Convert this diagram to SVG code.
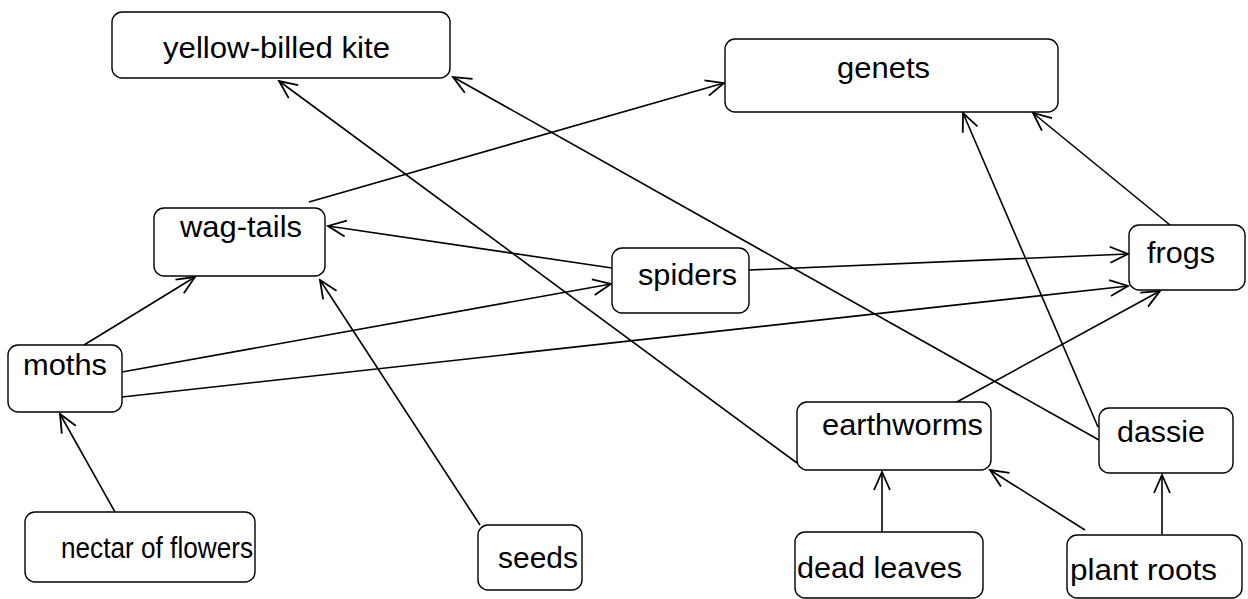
<svg xmlns="http://www.w3.org/2000/svg" width="1248" height="599" viewBox="0 0 1248 599">
<style>
.box{fill:#fff;stroke:#000;stroke-width:1.4}
.lbl{font-family:"Liberation Sans",Arial,sans-serif;font-size:30px;fill:#000}
.edge{stroke:#000;stroke-width:1.6;fill:none;marker-end:url(#arr)}
</style>
<defs>
<marker id="arr" markerUnits="userSpaceOnUse" markerWidth="22" markerHeight="20" refX="20" refY="10" orient="auto" viewBox="0 0 22 20">
<path d="M2,2 L20,10 L2,18" fill="none" stroke="#000" stroke-width="1.8"/>
</marker>
</defs>
<rect width="1248" height="599" fill="#fff"/>
<g id="connectors">
<line class="edge" x1="309" y1="202" x2="724" y2="83"/>
<line class="edge" x1="612" y1="268" x2="328" y2="226"/>
<line class="edge" x1="749" y1="270" x2="1128" y2="254"/>
<line class="edge" x1="84" y1="345" x2="195" y2="277"/>
<line class="edge" x1="122" y1="372" x2="611" y2="284"/>
<line class="edge" x1="122" y1="397" x2="1128" y2="286"/>
<line class="edge" x1="115" y1="512" x2="60" y2="414"/>
<line class="edge" x1="480" y1="525" x2="320" y2="280"/>
<line class="edge" x1="797" y1="463" x2="279" y2="81"/>
<line class="edge" x1="955" y1="403" x2="1160" y2="291"/>
<line class="edge" x1="1099" y1="440" x2="453" y2="77"/>
<line class="edge" x1="1098" y1="427" x2="963" y2="113"/>
<line class="edge" x1="1170" y1="225" x2="1033" y2="113"/>
<line class="edge" x1="882" y1="532" x2="882" y2="472"/>
<line class="edge" x1="1085" y1="530" x2="990" y2="470"/>
<line class="edge" x1="1162" y1="534" x2="1162" y2="475"/>
</g>
<g id="kite"><rect class="box" x="112" y="12" width="338" height="66" rx="10"/><text class="lbl" x="163" y="58" textLength="227" lengthAdjust="spacingAndGlyphs">yellow-billed kite</text></g>
<g id="genets"><rect class="box" x="725" y="39" width="333" height="73" rx="10"/><text class="lbl" x="837" y="78" textLength="93" lengthAdjust="spacingAndGlyphs">genets</text></g>
<g id="wagtails"><rect class="box" x="154" y="208" width="171" height="68" rx="10"/><text class="lbl" x="180" y="237" textLength="122" lengthAdjust="spacingAndGlyphs">wag-tails</text></g>
<g id="spiders"><rect class="box" x="612" y="248" width="137" height="65" rx="10"/><text class="lbl" x="638" y="285" textLength="99" lengthAdjust="spacingAndGlyphs">spiders</text></g>
<g id="frogs"><rect class="box" x="1129" y="225" width="116" height="65" rx="10"/><text class="lbl" x="1147" y="263" textLength="68" lengthAdjust="spacingAndGlyphs">frogs</text></g>
<g id="moths"><rect class="box" x="8" y="345" width="114" height="67" rx="10"/><text class="lbl" x="23" y="375" textLength="84" lengthAdjust="spacingAndGlyphs">moths</text></g>
<g id="earthworms"><rect class="box" x="797" y="402" width="194" height="68" rx="10"/><text class="lbl" x="822" y="435" textLength="161" lengthAdjust="spacingAndGlyphs">earthworms</text></g>
<g id="dassie"><rect class="box" x="1099" y="408" width="134" height="65" rx="10"/><text class="lbl" x="1117" y="442" textLength="88" lengthAdjust="spacingAndGlyphs">dassie</text></g>
<g id="nectar"><rect class="box" x="25" y="512" width="230" height="70" rx="10"/><text class="lbl" x="61" y="558" textLength="192" lengthAdjust="spacingAndGlyphs">nectar of flowers</text></g>
<g id="seeds"><rect class="box" x="478" y="525" width="104" height="65" rx="10"/><text class="lbl" x="498" y="568" textLength="80" lengthAdjust="spacingAndGlyphs">seeds</text></g>
<g id="deadleaves"><rect class="box" x="795" y="532" width="188" height="66" rx="10"/><text class="lbl" x="797" y="578" textLength="165" lengthAdjust="spacingAndGlyphs">dead leaves</text></g>
<g id="plantroots"><rect class="box" x="1067" y="535" width="175" height="63" rx="10"/><text class="lbl" x="1070" y="580" textLength="147" lengthAdjust="spacingAndGlyphs">plant roots</text></g>
</svg>
